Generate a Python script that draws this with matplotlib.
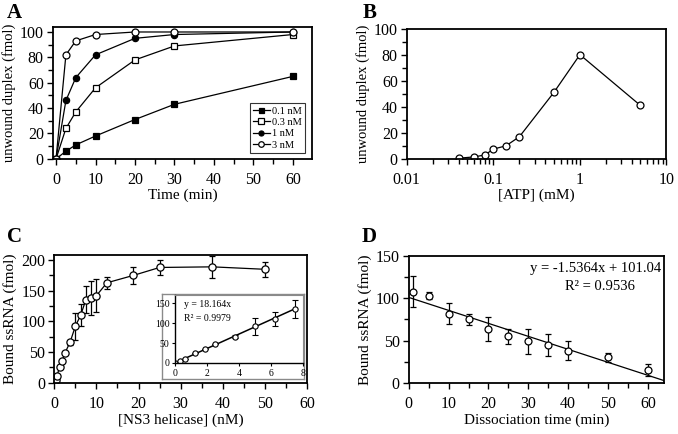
import numpy as np
import matplotlib
matplotlib.use("Agg")
import matplotlib.pyplot as plt
from matplotlib.ticker import MultipleLocator, LogLocator, NullFormatter, FixedLocator

plt.rcParams['font.family'] = ['Liberation Serif', 'DejaVu Serif']

# ---------------- Data ----------------
# Panel A
time_a = [0, 2.5, 5, 10, 20, 30, 60]
a_01 = [0, 6, 11, 18, 31, 43, 65]
a_03 = [0, 24, 37, 56, 78, 89, 98]
a_1 = [0, 46, 64, 82, 95, 98, 100]
a_3 = [0, 82, 93, 98, 100, 100, 100]
legend_a = ["0.1 nM", "0.3 nM", "1 nM", "3 nM"]

# Panel B
atp = [0.04, 0.06, 0.08, 0.1, 0.14, 0.2, 0.5, 1, 5]
b_vals = [0.5, 1.5, 3, 7.5, 10, 17, 51, 80, 41]

# Panel C
ns3 = [0, 0.3125, 0.625, 1.25, 1.875, 2.5, 3.75, 5, 6.25, 7.5, 8.75, 10, 12.5, 18.75, 25, 37.5, 50]
c_vals = [0, 5, 11, 25, 36, 48, 66, 92, 110, 135, 138, 142, 163, 175, 188, 189, 185]
c_err = [0, 0, 0, 0, 0, 0, 4, 22, 18, 22, 28, 27, 10, 14, 12, 18, 12]
inset_n = 10
inset_slope = 18.164

# Panel D
time_d = [1, 5, 10, 15, 20, 25, 30, 35, 40, 50, 60]
d_vals = [108, 103, 82, 75, 64, 55, 49, 45, 38, 30, 15]
d_err = [18, 4, 13, 7, 14, 9, 15, 13, 11, 5, 7]
d_slope = -1.5364
d_icpt = 101.04

fig = plt.figure(figsize=(6.78, 4.34), dpi=100)

tick_fs = 11.5
lab_fs = 11

def style(ax):
    for s in ax.spines.values():
        s.set_linewidth(1.3)
    ax.tick_params(direction='out', which='major', length=4.5, width=1, labelsize=tick_fs)
    ax.tick_params(direction='out', which='minor', length=3.5, width=1)
    ax.tick_params(axis='x', which='major', pad=5)
    ax.tick_params(axis='y', which='major', pad=2)

# ---------------- A ----------------
axA = fig.add_axes([0.078, 0.634, 0.382, 0.304])
kw = dict(color='black', lw=0.9, mec='black', mew=0.9)
axA.plot(time_a, a_01, marker='s', ms=4.5, mfc='black', label=legend_a[0], **kw)
axA.plot(time_a, a_03, marker='s', ms=5, mfc='white', label=legend_a[1], **kw)
axA.plot(time_a, a_1, marker='o', ms=4.5, mfc='black', label=legend_a[2], **kw)
axA.plot(time_a, a_3, marker='o', ms=5, mfc='white', label=legend_a[3], **kw)
axA.set_xlim(-0.8, 64.8)
axA.set_ylim(0, 104)
axA.xaxis.set_major_locator(MultipleLocator(10))
axA.xaxis.set_minor_locator(MultipleLocator(5))
axA.yaxis.set_major_locator(MultipleLocator(20))
axA.yaxis.set_minor_locator(MultipleLocator(10))
axA.set_xlabel("Time (min)", fontsize=lab_fs, labelpad=0)
axA.set_ylabel("unwound duplex (fmol)", fontsize=10.5, labelpad=3)
style(axA)
leg = axA.legend(loc='lower right', fontsize=7.5, frameon=True, fancybox=False,
                 edgecolor='black', handlelength=1.6, handletextpad=0.2,
                 borderpad=0.3, labelspacing=0.2, markerscale=0.8,
                 bbox_to_anchor=(0.972, 0.045), borderaxespad=0)
leg.get_frame().set_linewidth(0.8)

# ---------------- B ----------------
axB = fig.add_axes([0.600, 0.634, 0.383, 0.300])
axB.plot(atp, b_vals, marker='o', color='black', lw=0.9, ms=5, mfc='white', mec='black', mew=0.9)
axB.set_xscale('log')
axB.set_xlim(0.01, 10)
axB.set_ylim(0, 100)
axB.xaxis.set_major_locator(FixedLocator([0.01, 0.1, 1, 10]))
axB.set_xticklabels(["0.01", "0.1", "1", "10"])
axB.xaxis.set_minor_locator(LogLocator(base=10, subs=np.arange(2, 10)))
axB.xaxis.set_minor_formatter(NullFormatter())
axB.yaxis.set_major_locator(MultipleLocator(20))
axB.yaxis.set_minor_locator(MultipleLocator(10))
axB.set_xlabel("[ATP] (mM)", fontsize=lab_fs, labelpad=0)
axB.set_ylabel("unwound duplex (fmol)", fontsize=10.5, labelpad=3)
style(axB)

# ---------------- C ----------------
axC = fig.add_axes([0.080, 0.118, 0.373, 0.294])
axC.errorbar(ns3, c_vals, yerr=c_err, fmt='-o', color='black', lw=0.9, ms=5.2,
             mfc='white', mec='black', mew=0.9, ecolor='black', elinewidth=0.9, capsize=2.5)
axC.set_xlim(0, 60)
axC.set_ylim(0, 208)
axC.xaxis.set_major_locator(MultipleLocator(10))
axC.xaxis.set_minor_locator(MultipleLocator(5))
axC.yaxis.set_major_locator(MultipleLocator(50))
axC.yaxis.set_minor_locator(MultipleLocator(25))
axC.set_xlabel("[NS3 helicase] (nM)", fontsize=lab_fs, labelpad=1)
axC.set_ylabel("Bound ssRNA (fmol)", fontsize=lab_fs, labelpad=3)
style(axC)

# inset chart-area frame
bg = fig.add_axes([0.239, 0.127, 0.209, 0.196])
bg.set_xticks([]); bg.set_yticks([])
for s in bg.spines.values():
    s.set_color('#8a8a8a'); s.set_linewidth(1.0)

axI = fig.add_axes([0.258, 0.1636, 0.189, 0.156])
xi = ns3[:inset_n]
yi = c_vals[:inset_n]
ei = c_err[:inset_n]
xfit = np.array([0, xi[-1]])
axI.plot(xfit, inset_slope * xfit, color='black', lw=1.1)
axI.errorbar(xi, yi, yerr=ei, fmt='o', color='black', ms=3.8, mfc='white', mec='black',
             mew=0.8, ecolor='black', elinewidth=0.8, capsize=2.2)
axI.set_xlim(0, 8)
axI.set_ylim(0, 170)
axI.set_xticks([0, 2, 4, 6, 8])
axI.set_yticks([0, 50, 100, 150])
axI.tick_params(labelsize=7, length=2, width=0.8, pad=2)
axI.spines['top'].set_color('#8a8a8a')
axI.spines['right'].set_color('#8a8a8a')
axI.spines['left'].set_linewidth(1.0)
axI.spines['bottom'].set_linewidth(1.0)
axI.text(0.07, 0.93, "y = 18.164x", transform=axI.transAxes, fontsize=7, va='top', ha='left')
axI.text(0.07, 0.72, "R² = 0.9979", transform=axI.transAxes, fontsize=7, va='top', ha='left')

# ---------------- D ----------------
axD = fig.add_axes([0.603, 0.118, 0.376, 0.292])
xl = np.array([0, 64])
axD.plot(xl, d_slope * xl + d_icpt, color='black', lw=0.9)
axD.errorbar(time_d, d_vals, yerr=d_err, fmt='o', color='black', ms=5, mfc='white',
             mec='black', mew=0.9, ecolor='black', elinewidth=0.9, capsize=2.5)
axD.set_xlim(0, 64)
axD.set_ylim(0, 150)
axD.xaxis.set_major_locator(MultipleLocator(10))
axD.xaxis.set_minor_locator(MultipleLocator(5))
axD.yaxis.set_major_locator(MultipleLocator(50))
axD.yaxis.set_minor_locator(MultipleLocator(25))
axD.set_xlabel("Dissociation time (min)", fontsize=lab_fs, labelpad=1)
axD.set_ylabel("Bound ssRNA (fmol)", fontsize=lab_fs, labelpad=3)
style(axD)
axD.text(0.99, 0.905, "y = -1.5364x + 101.04", transform=axD.transAxes, fontsize=10.5,
         ha='right', va='center')
axD.text(0.75, 0.76, "R² = 0.9536", transform=axD.transAxes, fontsize=10.5,
         ha='center', va='center')

# Panel letters
for lbl, x, y in [("A", 0.010, 0.970), ("B", 0.535, 0.970), ("C", 0.010, 0.454), ("D", 0.534, 0.454)]:
    fig.text(x, y, lbl, fontsize=15, fontweight='bold', ha='left', va='center')

fig.savefig("out.png", dpi=100)
